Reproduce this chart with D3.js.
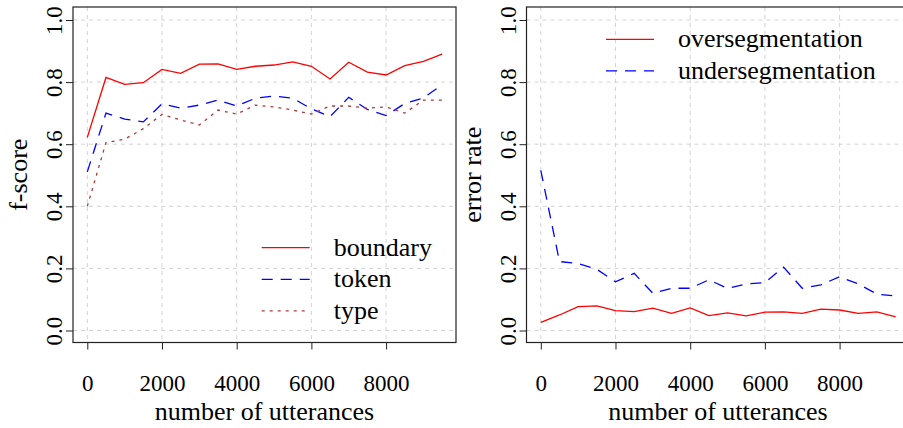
<!DOCTYPE html>
<html>
<head>
<meta charset="utf-8">
<script src="https://cdn.jsdelivr.net/npm/d3@7"></script>
<style>
  body { margin: 0; background: #fff; }
</style>
</head>
<body>
<div id="chart"></div>
<script>
// data
var utterances = [0, 500, 1000, 1500, 2000, 2500, 3000, 3500, 4000, 4500,
                  5000, 5500, 6000, 6500, 7000, 7500, 8000, 8500, 9000, 9500];

var boundary = [0.622, 0.815, 0.793, 0.798, 0.841, 0.828, 0.858, 0.859, 0.841, 0.851,
                0.855, 0.865, 0.851, 0.810, 0.864, 0.832, 0.823, 0.853, 0.867, 0.890];
var token    = [0.511, 0.700, 0.681, 0.672, 0.730, 0.716, 0.726, 0.742, 0.723, 0.748,
                0.755, 0.748, 0.714, 0.689, 0.751, 0.712, 0.692, 0.731, 0.749, 0.791];
var type     = [0.400, 0.605, 0.616, 0.650, 0.696, 0.678, 0.662, 0.710, 0.697, 0.726,
                0.720, 0.710, 0.697, 0.723, 0.723, 0.716, 0.720, 0.700, 0.742, 0.742];

var overseg  = [0.026, 0.050, 0.077, 0.079, 0.064, 0.061, 0.072, 0.055, 0.073, 0.048,
                0.057, 0.047, 0.059, 0.060, 0.055, 0.069, 0.066, 0.055, 0.060, 0.044];
var underseg = [0.516, 0.222, 0.216, 0.197, 0.157, 0.184, 0.120, 0.136, 0.136, 0.163,
                0.136, 0.150, 0.154, 0.204, 0.136, 0.147, 0.173, 0.150, 0.117, 0.111];

var xTicks = [0, 2000, 4000, 6000, 8000];
var yTicks = [0, 0.2, 0.4, 0.6, 0.8, 1.0];

var svgWidth = 903, svgHeight = 428;
var serif = '"Liberation Serif"';

var svg = d3.select("#chart").append("svg")
  .attr("width", svgWidth)
  .attr("height", svgHeight);

var y = d3.scaleLinear().domain([0, 1]).range([330.5, 20]);

function drawPanel(opts) {
  var x = d3.scaleLinear().domain([0, 9500]).range([opts.left + 14.3, opts.left + 369.1]);
  var boxL = opts.left, boxR = opts.left + 383, boxT = 7, boxB = 342.5;
  var g = svg.append("g");

  // grid
  g.selectAll(".vgrid").data(xTicks).enter().append("line")
    .attr("x1", d => x(d)).attr("x2", d => x(d))
    .attr("y1", boxT).attr("y2", boxB)
    .attr("stroke", "#d3d3d3").attr("stroke-dasharray", "4,4");
  g.selectAll(".hgrid").data(yTicks).enter().append("line")
    .attr("x1", boxL).attr("x2", boxR)
    .attr("y1", d => y(d)).attr("y2", d => y(d))
    .attr("stroke", "#d3d3d3").attr("stroke-dasharray", "4,4");

  // series
  opts.series.forEach(function(s) {
    var line = d3.line().x((d, i) => x(utterances[i])).y(d => y(d));
    g.append("path").datum(s.values)
      .attr("d", line)
      .attr("fill", "none")
      .attr("stroke", s.color)
      .attr("stroke-width", 1.3)
      .attr("stroke-dasharray", s.dash);
  });

  // box
  g.append("rect")
    .attr("x", boxL).attr("y", boxT)
    .attr("width", boxR - boxL).attr("height", boxB - boxT)
    .attr("fill", "none").attr("stroke", "#222").attr("stroke-width", 1.2);

  // axes
  var bottomAxis = d3.axisBottom(x).tickValues(xTicks).tickSize(7).tickFormat(d3.format("d"));
  var xa = g.append("g").attr("transform", `translate(0,${boxB})`).call(bottomAxis);
  xa.select(".domain").remove();
  xa.selectAll(".tick line").attr("stroke", "#222");
  xa.selectAll(".tick text").attr("y", 48.5).attr("dy", null).attr("fill", "#000")
    .attr("font-family", serif).attr("font-size", 23);

  var leftAxis = d3.axisLeft(y).tickValues(yTicks).tickSize(7).tickFormat(d3.format(".1f"));
  var ya = g.append("g").attr("transform", `translate(${boxL},0)`).call(leftAxis);
  ya.select(".domain").remove();
  ya.selectAll(".tick line").attr("stroke", "#222");
  ya.selectAll(".tick text")
    .attr("x", null).attr("dy", null).attr("fill", "#000")
    .attr("transform", "translate(-11,0) rotate(-90)")
    .attr("text-anchor", "middle")
    .attr("font-family", serif).attr("font-size", 23);

  // axis titles
  g.append("text")
    .attr("x", (boxL + boxR) / 2).attr("y", 420)
    .attr("text-anchor", "middle")
    .attr("font-family", serif).attr("font-size", 26)
    .text("number of utterances");
  g.append("text")
    .attr("transform", `translate(${boxL - 46},${(boxT + boxB) / 2}) rotate(-90)`)
    .attr("text-anchor", "middle")
    .attr("font-family", serif).attr("font-size", 26)
    .text(opts.ylabel);

  // legend
  opts.series.forEach(function(s, i) {
    var ly = opts.legendY + i * 31.6;
    g.append("line")
      .attr("x1", opts.legendX).attr("x2", opts.legendX + 48)
      .attr("y1", ly).attr("y2", ly)
      .attr("stroke", s.color).attr("stroke-width", 1.3)
      .attr("stroke-dasharray", s.dash);
    g.append("text")
      .attr("x", opts.legendX + 72).attr("y", ly + 8)
      .attr("font-family", serif).attr("font-size", 26)
      .text(s.name);
  });
}

drawPanel({
  left: 73,
  ylabel: "f-score",
  legendX: 261.7, legendY: 247.7,
  series: [
    {name: "boundary", values: boundary, color: "#ff0000", dash: null},
    {name: "token", values: token, color: "#0000ff", dash: "11,8"},
    {name: "type", values: type, color: "#b03a3a", dash: "3,5"}
  ]
});

drawPanel({
  left: 526.5,
  ylabel: "error rate",
  legendX: 606, legendY: 39.3,
  series: [
    {name: "oversegmentation", values: overseg, color: "#ff0000", dash: null},
    {name: "undersegmentation", values: underseg, color: "#0000ff", dash: "11,8"}
  ]
});
</script>
</body>
</html>
